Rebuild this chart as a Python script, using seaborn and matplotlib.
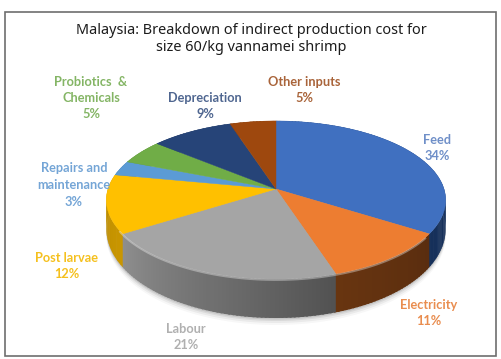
"""Malaysia shrimp indirect production cost, drawn as a tilted 3D pie."""

import numpy as np
import pandas as pd
import matplotlib
matplotlib.use("Agg")
import matplotlib.pyplot as plt
import seaborn as sns

# Chart values
categories = ["Feed", "Electricity", "Labour", "Post larvae",
              "Repairs and\nmaintenance", "Probiotics  &\nChemicals", "Depreciation", "Other inputs"]
shares = [34, 11, 21, 12, 3, 5, 9, 5]
title_text = "Malaysia: Breakdown of indirect production cost for\nsize 60/kg vannamei shrimp"

# Colours
top_colors = ["#4070c0", "#ed7d31", "#a5a5a5", "#ffc000", "#5b9bd5", "#70ad47", "#264478", "#9e480e"]
side_start = ["#1f3a68", "#5a2d0f", "#8e8e8e", "#c99600", "#3a6a98", "#4a7a30", "#182c50", "#6a3008"]
side_end = ["#16305a", "#683510", "#525252", "#b98a00", "#3a6a98", "#4a7a30", "#182c50", "#6a3008"]
label_colors = ["#6f8fc8", "#e98d4f", "#b0b0b0", "#f5c01e", "#74a5d6", "#84b565", "#4f6690", "#a9643a"]

# Label centres in pixels
label_pos = [(437, 148), (429, 313), (186, 337), (67, 266),
             (74, 185), (91, 98), (205, 106), (304, 90)]

# Projection of the pie in pixels
cx, cy = 276, 189
rx, ry, k = 168, 77.5, 0.139

sns.set_theme(style="white")
plt.rcParams["font.family"] = ["Lato", "DejaVu Sans"]

df = pd.DataFrame({"category": categories, "share": shares})
df["end"] = df["share"].cumsum() / df["share"].sum() * 2 * np.pi
df["start"] = df["end"].shift(1, fill_value=0.0)


def rim(theta, drop=False):
    """Project angles (clockwise from the top) onto the tilted disc."""
    u, v = np.sin(theta), -np.cos(theta)
    w = 1 - k * v
    x = cx + rx * u / w
    y = cy + ry * v / w
    if drop:
        y = y + 27 + 12 * v
    return x, y


fig, ax = plt.subplots(figsize=(5.02, 3.59), dpi=100)
fig.subplots_adjust(0, 0, 1, 1)
ax.set_xlim(0, 502)
ax.set_ylim(359, 0)
ax.axis("off")

# Frame
ax.add_patch(plt.Rectangle((5, 12), 491, 344, fill=False, edgecolor="#6e6e6e", linewidth=1.2))

# Soft shadow under the pie
angles = np.linspace(0, 2 * np.pi, 240)
sx, sy = rim(angles, drop=True)
for grow, alpha in zip([7, 5, 3, 1.5], [0.03, 0.05, 0.07, 0.09]):
    ax.fill(sx, sy + grow, color="black", alpha=alpha, linewidth=0, zorder=1)

# Side wall, back to front
pieces = []
for i, row in df.iterrows():
    steps = np.linspace(row["start"], row["end"], max(int(row["share"]) * 3, 4))
    c0 = np.array(matplotlib.colors.to_rgb(side_start[i]))
    c1 = np.array(matplotlib.colors.to_rgb(side_end[i]))
    for j in range(len(steps) - 1):
        t = j / max(len(steps) - 2, 1)
        # labour runs right to left, so its dark end sits at the slice start
        col = c1 * (1 - t) + c0 * t if row["category"] == "Labour" else c0 * (1 - t) + c1 * t
        pieces.append((steps[j], steps[j + 1], col))
for a0, a1, col in pieces:
    seg = np.linspace(a0, a1 + 0.01, 4)
    x0, y0 = rim(seg)
    x1, y1 = rim(seg, drop=True)
    ax.fill(np.r_[x0, x1[::-1]], np.r_[y0, y1[::-1]], facecolor=col, edgecolor="none", zorder=2)

# Top surface
for i, row in df.iterrows():
    seg = np.linspace(row["start"], row["end"], 80)
    x, y = rim(seg)
    ax.fill(np.r_[cx, x], np.r_[cy, y], color=top_colors[i], linewidth=0.3, zorder=3)

# Light bevel along the front edge
bevel = np.linspace(np.radians(125), np.radians(240), 100)
bx, by = rim(bevel)
ax.plot(bx, by + 1, color="white", alpha=0.35, linewidth=1.3, zorder=4)

# Labels
for i, row in df.iterrows():
    ax.text(label_pos[i][0], label_pos[i][1], f"{row['category']}\n{row['share']}%",
            color=label_colors[i], fontsize=9.2, fontweight="bold", ha="center", va="center",
            linespacing=1.45, zorder=5)

ax.text(251, 39, title_text, color="#1c1c1c", fontsize=10.4, ha="center", va="center",
        family=["Noto Sans", "DejaVu Sans"], linespacing=1.1, zorder=5)

fig.savefig("out.png", dpi=100)
